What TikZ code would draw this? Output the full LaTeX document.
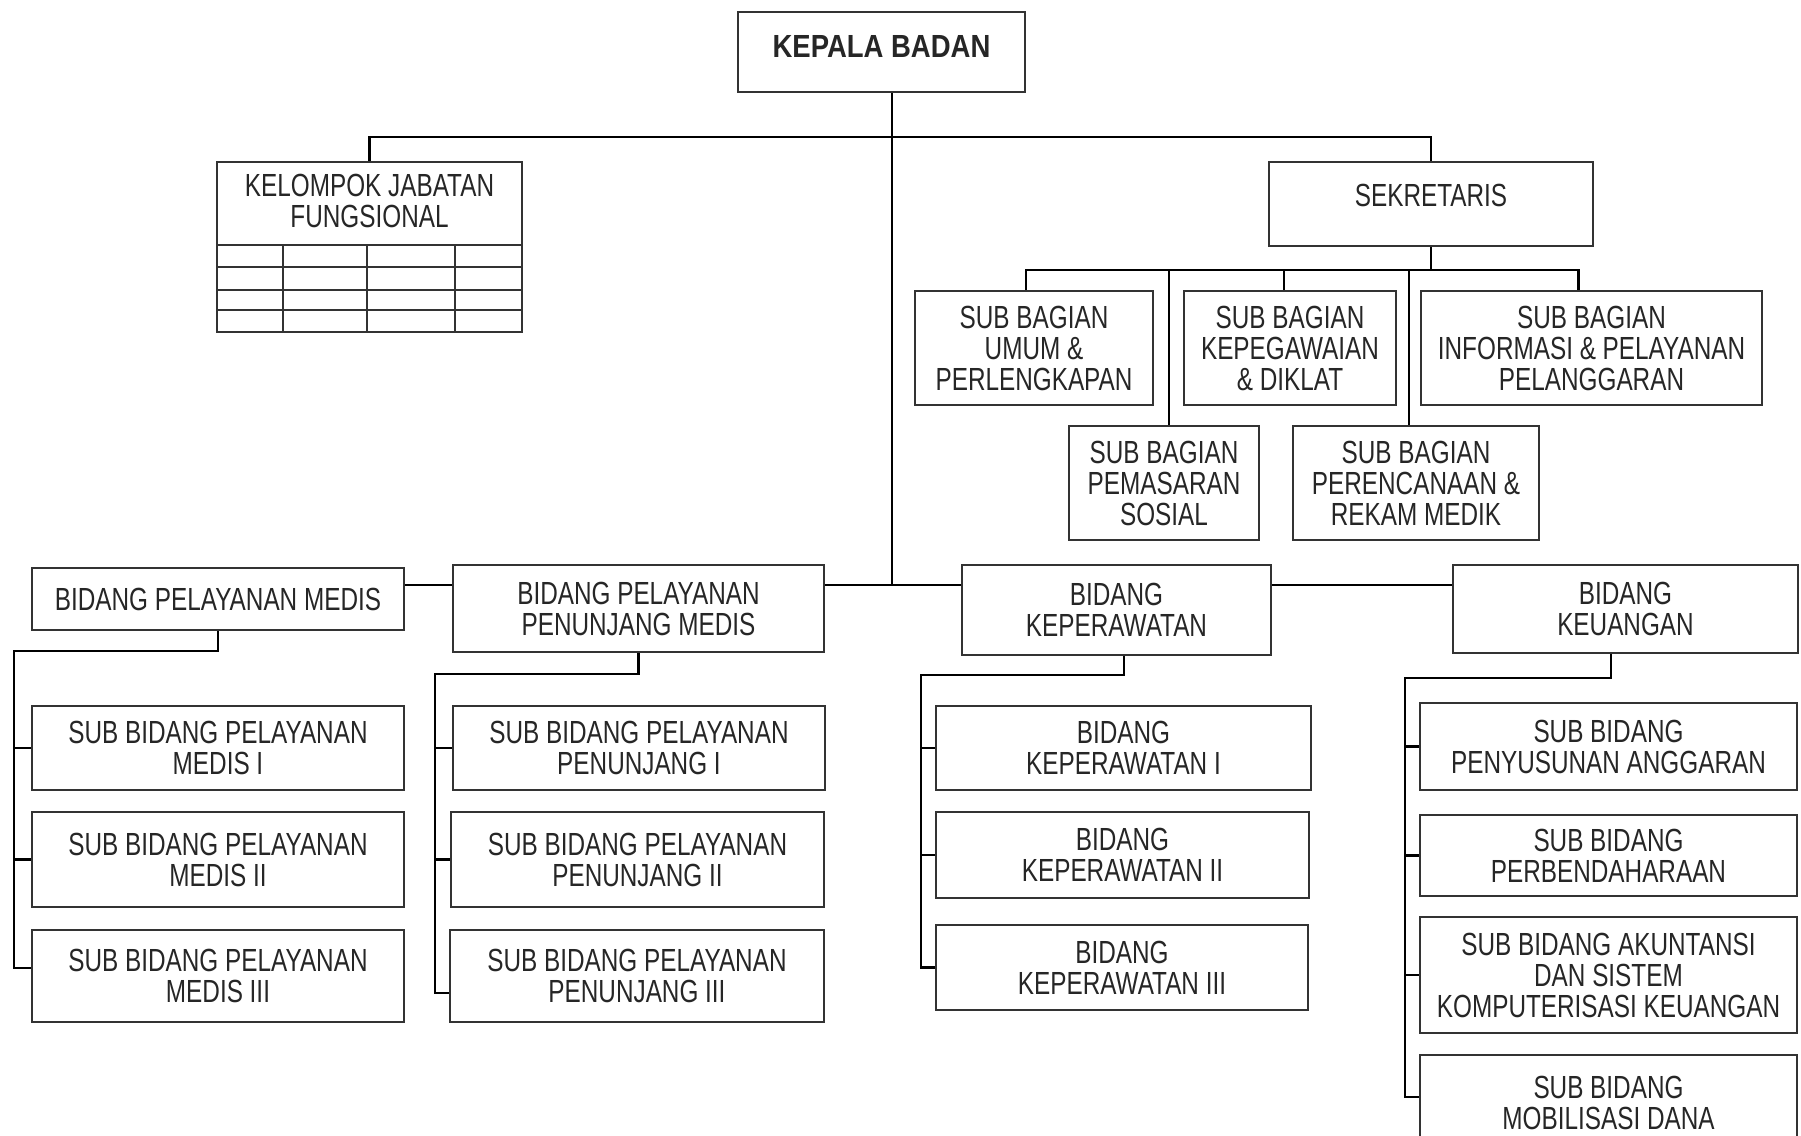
\documentclass[tikz,border=0pt]{standalone}
\usepackage{fontspec}
\usepackage{graphicx}
\setmainfont{Liberation Sans}[FakeStretch=0.76]
\newcommand\fsz{\fontsize{16}{15.5}\selectfont}
\begin{document}
\begin{tikzpicture}[x=0.5pt,y=-0.5pt,
  box/.style={draw=black!80,line width=1.1pt,align=center,inner sep=1pt,text=black!85,font=\fsz},
  conn/.style={draw=black,line width=1.1pt},
  tbl/.style={draw=black!80,line width=1.1pt}]
\clip (0,0) rectangle (1801,1136);
\fill[white] (0,0) rectangle (1801,1136);

% top level
\node[box,minimum width=143.5pt,minimum height=40pt,text depth=5.8pt] (kepala) at (881.5,52) {\scalebox{1.13}[1]{\bfseries KEPALA BADAN}};
\node[box,minimum width=152.5pt,minimum height=85pt] (kel) at (369.5,247) {};
\node[font=\fsz,align=center,text=black!85] (keltext) at (369.5,201) {KELOMPOK JABATAN\\FUNGSIONAL};
\foreach \y in {245,267,290,310} \draw[tbl] (217,\y) -- (522,\y);
\foreach \x in {283,367,455} \draw[tbl] (\x,245) -- (\x,332);
\node[box,minimum width=162pt,minimum height=42pt,text depth=9pt] (sek) at (1431,204) {SEKRETARIS};

% sekretaris subs
\node[box,minimum width=119pt,minimum height=57pt] (umum) at (1034,348) {SUB BAGIAN\\UMUM \&\\PERLENGKAPAN};
\node[box,minimum width=106pt,minimum height=57pt] (kepeg) at (1290,348) {SUB BAGIAN\\KEPEGAWAIAN\\\& DIKLAT};
\node[box,minimum width=170.5pt,minimum height=57pt] (info) at (1591.5,348) {SUB BAGIAN\\INFORMASI \& PELAYANAN\\PELANGGARAN};
\node[box,minimum width=95pt,minimum height=57pt] (pemas) at (1164,483) {SUB BAGIAN\\PEMASARAN\\SOSIAL};
\node[box,minimum width=123pt,minimum height=57pt] (peren) at (1416,483) {SUB BAGIAN\\PERENCANAAN \&\\REKAM MEDIK};

% bidang row
\node[box,minimum width=186pt,minimum height=31pt] (bpm) at (218,599) {BIDANG PELAYANAN MEDIS};
\node[box,minimum width=185.5pt,minimum height=43.5pt] (bppm) at (638.5,608.5) {BIDANG PELAYANAN\\PENUNJANG MEDIS};
\node[box,minimum width=154.5pt,minimum height=45pt] (bk) at (1116.5,610) {BIDANG\\KEPERAWATAN};
\node[box,minimum width=172.5pt,minimum height=44pt] (bkeu) at (1625.5,609) {BIDANG\\KEUANGAN};

% medis
\node[box,minimum width=186pt,minimum height=42pt] (m1) at (218,748) {SUB BIDANG PELAYANAN\\MEDIS I};
\node[box,minimum width=186pt,minimum height=47.5pt] (m2) at (218,859.5) {SUB BIDANG PELAYANAN\\MEDIS II};
\node[box,minimum width=186pt,minimum height=46pt] (m3) at (218,976) {SUB BIDANG PELAYANAN\\MEDIS III};

% penunjang
\node[box,minimum width=186pt,minimum height=42pt] (p1) at (639,748) {SUB BIDANG PELAYANAN\\PENUNJANG I};
\node[box,minimum width=186.5pt,minimum height=47.5pt] (p2) at (637.5,859.5) {SUB BIDANG PELAYANAN\\PENUNJANG II};
\node[box,minimum width=187pt,minimum height=46pt] (p3) at (637,976) {SUB BIDANG PELAYANAN\\PENUNJANG III};

% keperawatan
\node[box,minimum width=187.5pt,minimum height=42pt] (k1) at (1123.5,748) {BIDANG\\KEPERAWATAN I};
\node[box,minimum width=186.5pt,minimum height=43pt] (k2) at (1122.5,855) {BIDANG\\KEPERAWATAN II};
\node[box,minimum width=186pt,minimum height=42.5pt] (k3) at (1122,967.5) {BIDANG\\KEPERAWATAN III};

% keuangan
\node[box,minimum width=188.5pt,minimum height=43.5pt] (u1) at (1608.5,746.5) {SUB BIDANG\\PENYUSUNAN ANGGARAN};
\node[box,minimum width=188.5pt,minimum height=40.5pt] (u2) at (1608.5,855.5) {SUB BIDANG\\PERBENDAHARAAN};
\node[box,minimum width=188.5pt,minimum height=58pt] (u3) at (1608.5,975) {SUB BIDANG AKUNTANSI\\DAN SISTEM\\KOMPUTERISASI KEUANGAN};
\node[box,minimum width=188.5pt,minimum height=47.5pt] (u4) at (1608.5,1102.5) {SUB BIDANG\\MOBILISASI DANA};

% connectors
\coordinate (topbus) at (892,137);
\coordinate (row) at (892,585);
\draw[conn] ([xshift=5.25pt]kepala.south) -- (row);
\draw[conn] (kel.north) |- (topbus) -| (sek.north);

\coordinate (sekbus) at (1431,270);
\draw[conn] (sek.south) -- (sekbus);
\draw[conn] ([xshift=-4pt]umum.north) |- (sekbus) -| ([xshift=-6.5pt]info.north);
\draw[conn] ([xshift=-3pt]kepeg.north) -- ++(0,-21);
\draw[conn] ([xshift=2.5pt]pemas.north) -- ++(0,-156);
\draw[conn] ([xshift=-3.5pt]peren.north) -- ++(0,-156);

\draw[conn] (bpm.east |- row) -- (bppm.west |- row);
\draw[conn] (bppm.east |- row) -- (bk.west |- row);
\draw[conn] (bk.east |- row) -- (bkeu.west |- row);

\coordinate (mc) at (14,651);
\draw[conn] (bpm.south) |- (mc) |- ([yshift=4pt]m3.west);
\draw[conn] (mc |- m1.west) -- (m1.west);
\draw[conn] (mc |- m2.west) -- (m2.west);

\coordinate (pc) at (435,674);
\draw[conn] (bppm.south) |- (pc) |- ([yshift=-8.5pt]p3.west);
\draw[conn] (pc |- p1.west) -- (p1.west);
\draw[conn] (pc |- p2.west) -- (p2.west);

\coordinate (kc) at (921,675);
\draw[conn] ([xshift=3.75pt]bk.south) |- (kc) |- (k3.west);
\draw[conn] (kc |- k1.west) -- (k1.west);
\draw[conn] (kc |- k2.west) -- (k2.west);

\coordinate (uc) at (1405,678);
\draw[conn] ([xshift=-7.25pt]bkeu.south) |- (uc) |- ([yshift=2.75pt]u4.west);
\draw[conn] (uc |- u1.west) -- (u1.west);
\draw[conn] (uc |- u2.west) -- (u2.west);
\draw[conn] (uc |- u3.west) -- (u3.west);
\end{tikzpicture}
\end{document}
